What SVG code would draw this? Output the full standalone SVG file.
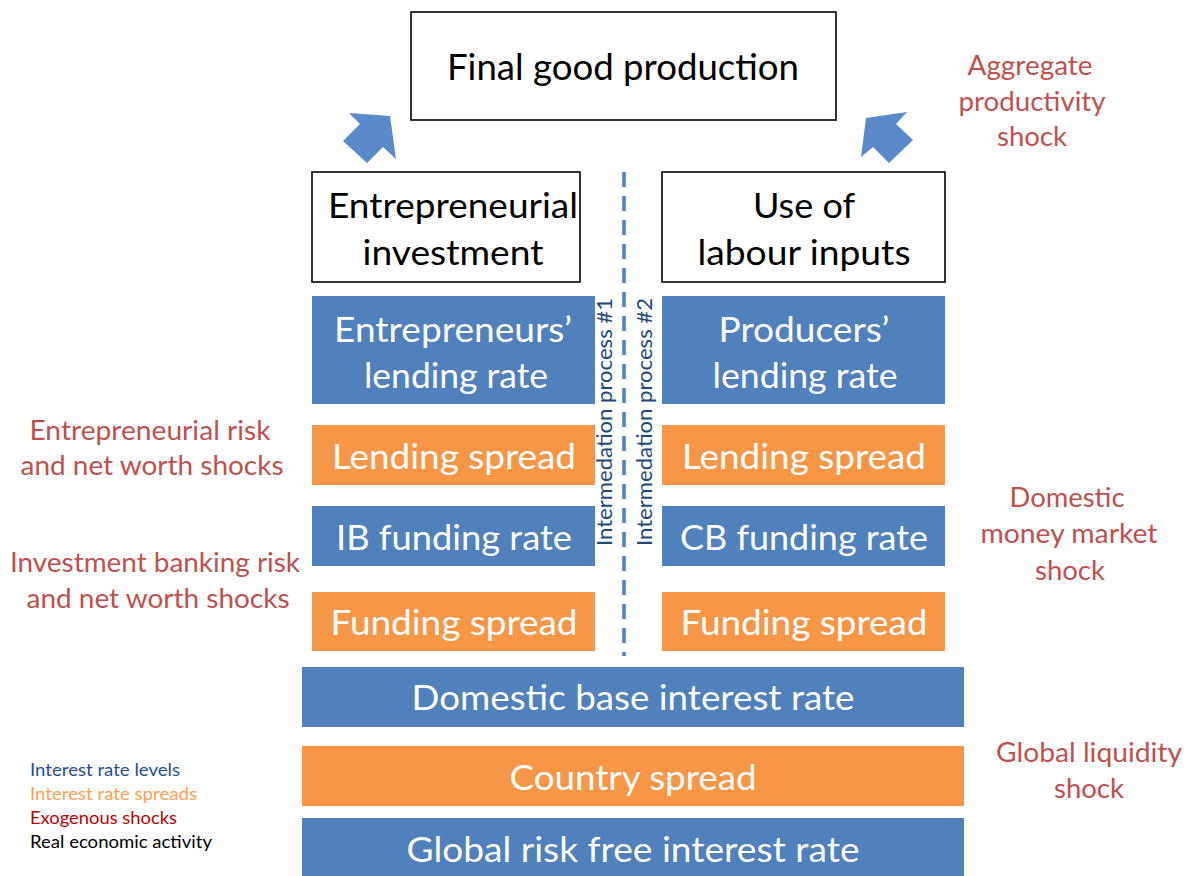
<svg xmlns="http://www.w3.org/2000/svg" width="1194" height="876" viewBox="0 0 1194 876">
<style>
text{font-family:Lato,"Liberation Sans",sans-serif;}
.box{fill:#fff;stroke:#000;stroke-width:1.6;}
.lvl{fill:#4F81BD;}
.spr{fill:#F79646;}
.bt{font-size:35px;fill:#000;text-anchor:middle;}
.wt{font-size:35px;fill:#fff;text-anchor:middle;}
.sh{font-size:27px;fill:#C0504D;text-anchor:middle;}
.vt{font-size:21px;fill:#1F497D;text-anchor:middle;}
.lg{font-size:17px;}
.arr{fill:#5B8ACB;}
</style>
<rect width="1194" height="876" fill="#fff"/>

<g id="connectors">
<polygon class="arr" points="349,113 390,116 396,159 383,147 367,163 343,141 360,124"/>
<polygon class="arr" points="866,118 907,112 896,124 913,140 889,163 873,147 861,157"/>
<line x1="624" y1="172" x2="624" y2="656" stroke="#4F81BD" stroke-width="3.5" stroke-dasharray="15 9"/>
</g>

<g id="final">
<rect class="box" x="411" y="12" width="425" height="108"/>
<text class="bt" x="623" y="80" textLength="352" lengthAdjust="spacingAndGlyphs" style="font-size:36px">Final good production</text>
</g>

<g id="entinv">
<rect class="box" x="312" y="172" width="268" height="110"/>
<text class="bt" x="453" y="218" textLength="250" lengthAdjust="spacingAndGlyphs">Entrepreneurial</text>
<text class="bt" x="453" y="265" textLength="181" lengthAdjust="spacingAndGlyphs">investment</text>
</g>

<g id="labour">
<rect class="box" x="662" y="172" width="283" height="110"/>
<text class="bt" x="804" y="218" textLength="102" lengthAdjust="spacingAndGlyphs">Use of</text>
<text class="bt" x="804" y="265" textLength="213" lengthAdjust="spacingAndGlyphs">labour inputs</text>
</g>

<g id="entlend">
<rect class="lvl" x="312" y="296" width="283" height="108"/>
<text class="wt" x="453" y="342" textLength="238" lengthAdjust="spacingAndGlyphs">Entrepreneurs’</text>
<text class="wt" x="456" y="388" textLength="184" lengthAdjust="spacingAndGlyphs">lending rate</text>
</g>

<g id="prodlend">
<rect class="lvl" x="662" y="296" width="283" height="108"/>
<text class="wt" x="804" y="342" textLength="171" lengthAdjust="spacingAndGlyphs">Producers’</text>
<text class="wt" x="805" y="388" textLength="185" lengthAdjust="spacingAndGlyphs">lending rate</text>
</g>

<g id="lendspr1">
<rect class="spr" x="312" y="425" width="283" height="60"/>
<text class="wt" x="454" y="469" textLength="244" lengthAdjust="spacingAndGlyphs">Lending spread</text>
</g>
<g id="lendspr2">
<rect class="spr" x="662" y="425" width="283" height="60"/>
<text class="wt" x="804" y="469" textLength="244" lengthAdjust="spacingAndGlyphs">Lending spread</text>
</g>

<g id="ibfund">
<rect class="lvl" x="312" y="506" width="283" height="60"/>
<text class="wt" x="454" y="550" textLength="236" lengthAdjust="spacingAndGlyphs">IB funding rate</text>
</g>
<g id="cbfund">
<rect class="lvl" x="662" y="506" width="283" height="60"/>
<text class="wt" x="804" y="550" textLength="248" lengthAdjust="spacingAndGlyphs">CB funding rate</text>
</g>

<g id="fundspr1">
<rect class="spr" x="312" y="592" width="283" height="59"/>
<text class="wt" x="454" y="635" textLength="247" lengthAdjust="spacingAndGlyphs">Funding spread</text>
</g>
<g id="fundspr2">
<rect class="spr" x="662" y="592" width="283" height="59"/>
<text class="wt" x="804" y="635" textLength="247" lengthAdjust="spacingAndGlyphs">Funding spread</text>
</g>

<g id="base">
<rect class="lvl" x="302" y="667" width="662" height="60"/>
<text class="wt" x="633" y="710" textLength="443" lengthAdjust="spacingAndGlyphs">Domestic base interest rate</text>
</g>
<g id="country">
<rect class="spr" x="302" y="746" width="662" height="60"/>
<text class="wt" x="633" y="790" textLength="247" lengthAdjust="spacingAndGlyphs">Country spread</text>
</g>
<g id="global">
<rect class="lvl" x="302" y="818" width="662" height="58"/>
<text class="wt" x="633" y="862" textLength="453" lengthAdjust="spacingAndGlyphs">Global risk free interest rate</text>
</g>

<g id="proc1">
<text class="vt" transform="translate(612,422) rotate(-90)" textLength="248" lengthAdjust="spacingAndGlyphs">Intermedation  process #1</text>
</g>
<g id="proc2">
<text class="vt" transform="translate(652,422) rotate(-90)" textLength="248" lengthAdjust="spacingAndGlyphs">Intermedation  process #2</text>
</g>

<g id="shock-agg">
<text class="sh" x="1030" y="75" textLength="125" lengthAdjust="spacingAndGlyphs">Aggregate</text>
<text class="sh" x="1032" y="111" textLength="147" lengthAdjust="spacingAndGlyphs">productivity</text>
<text class="sh" x="1032" y="146" textLength="70" lengthAdjust="spacingAndGlyphs">shock</text>
</g>
<g id="shock-ent">
<text class="sh" x="150" y="440" textLength="241" lengthAdjust="spacingAndGlyphs">Entrepreneurial risk</text>
<text class="sh" x="152" y="475" textLength="263" lengthAdjust="spacingAndGlyphs">and net worth shocks</text>
</g>
<g id="shock-ib">
<text class="sh" x="155" y="572" textLength="290" lengthAdjust="spacingAndGlyphs">Investment banking risk</text>
<text class="sh" x="158" y="608" textLength="263" lengthAdjust="spacingAndGlyphs">and net worth shocks</text>
</g>
<g id="shock-dom">
<text class="sh" x="1067" y="507" textLength="115" lengthAdjust="spacingAndGlyphs">Domestic</text>
<text class="sh" x="1069" y="543" textLength="177" lengthAdjust="spacingAndGlyphs">money market</text>
<text class="sh" x="1070" y="580" textLength="70" lengthAdjust="spacingAndGlyphs">shock</text>
</g>
<g id="shock-glob">
<text class="sh" x="1089" y="762" textLength="186" lengthAdjust="spacingAndGlyphs">Global liquidity</text>
<text class="sh" x="1089" y="798" textLength="70" lengthAdjust="spacingAndGlyphs">shock</text>
</g>

<g id="legend">
<text class="lg" x="30" y="776" fill="#1F4E9A" textLength="150" lengthAdjust="spacingAndGlyphs">Interest rate levels</text>
<text class="lg" x="30" y="800" fill="#FFA055" textLength="167" lengthAdjust="spacingAndGlyphs">Interest rate spreads</text>
<text class="lg" x="30" y="824" fill="#C00000" textLength="147" lengthAdjust="spacingAndGlyphs">Exogenous shocks</text>
<text class="lg" x="30" y="848" fill="#000" textLength="182" lengthAdjust="spacingAndGlyphs">Real economic activity</text>
</g>
</svg>
